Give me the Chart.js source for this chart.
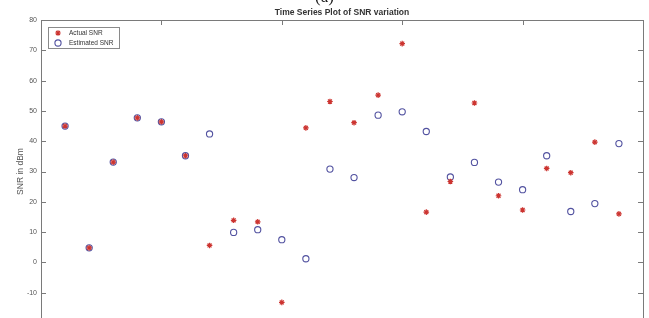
<!DOCTYPE html>
<html>
<head>
<meta charset="utf-8">
<script src="https://cdn.jsdelivr.net/npm/chart.js@4.4.1/dist/chart.umd.min.js"></script>
<style>
  html, body { margin: 0; padding: 0; background: #fff; overflow: hidden; }
  #wrap { position: relative; width: 649px; height: 318px; overflow: hidden; }
  #snrChart { position: absolute; left: 0; top: 0; }
  #caption { position: absolute; left: 0; top: -13px; width: 649px; text-align: center; font: 17px "Liberation Serif", serif; color: #222; }
</style>
</head>
<body>
<div id="wrap">
  <canvas id="snrChart" width="649" height="355"></canvas>
  <div id="caption">(a)</div>
</div>
<script>
// Data
const timeSteps = [1, 2, 3, 4, 5, 6, 7, 8, 9, 10, 11, 12, 13, 14, 15, 16, 17, 18, 19, 20, 21, 22, 23, 24];
const actualSNR = [45.0, 4.8, 33.1, 47.7, 46.4, 35.2, 5.6, 13.9, 13.4, -13.2, 44.4, 53.1,
                   46.1, 55.2, 72.2, 16.6, 26.7, 52.6, 22.0, 17.3, 31.0, 29.6, 39.7, 16.0];
const estimatedSNR = [45.0, 4.8, 33.1, 47.7, 46.4, 35.2, 42.4, 9.9, 10.8, 7.5, 1.2, 30.8,
                      28.0, 48.6, 49.7, 43.2, 28.2, 33.0, 26.5, 24.0, 35.2, 16.8, 19.4, 39.2];
const xTicks = [0, 5, 10, 15, 20, 25];
const yTicks = [-20, -10, 0, 10, 20, 30, 40, 50, 60, 70, 80];
const chartTitle = 'Time Series Plot of SNR variation';

const axisColor = '#7a7a7a';
const textColor = '#555';
const redStar = '#cc3430';
const blueCircle = '#5252a0';
const fontName = '"Liberation Sans", Arial, sans-serif';

function toPoints(ys) {
  return timeSteps.map((x, i) => ({ x: x, y: ys[i] }));
}

// box + inward tick marks + title centred over the axes, matlab style
const matlabFrame = {
  id: 'matlabFrame',
  beforeDatasetsDraw(chart) {
    const { ctx, chartArea: a, scales } = chart;
    const len = 5;
    ctx.save();
    ctx.strokeStyle = axisColor;
    ctx.lineWidth = 1;
    ctx.strokeRect(a.left + 0.5, a.top + 0.5, a.right - a.left, a.bottom - a.top);
    ctx.beginPath();
    xTicks.slice(1, -1).forEach(v => {
      const px = Math.round(scales.x.getPixelForValue(v)) + 0.5;
      ctx.moveTo(px, a.top); ctx.lineTo(px, a.top + len);
      ctx.moveTo(px, a.bottom); ctx.lineTo(px, a.bottom - len);
    });
    yTicks.slice(1, -1).forEach(v => {
      const py = Math.round(scales.y.getPixelForValue(v)) + 0.5;
      ctx.moveTo(a.left, py); ctx.lineTo(a.left + len, py);
      ctx.moveTo(a.right, py); ctx.lineTo(a.right - len, py);
    });
    ctx.stroke();

    ctx.fillStyle = '#333';
    ctx.font = 'bold 8.5px ' + fontName;
    ctx.textAlign = 'center';
    ctx.textBaseline = 'middle';
    ctx.fillText(chartTitle, (a.left + a.right) / 2, a.top - 7);
    ctx.restore();
  }
};

// legend box in the top left corner
const cornerLegend = {
  id: 'cornerLegend',
  afterDraw(chart) {
    const { ctx, chartArea: a } = chart;
    const bx = a.left + 7, by = a.top + 7, bw = 71, bh = 21;
    ctx.save();
    ctx.fillStyle = '#fff';
    ctx.fillRect(bx, by, bw, bh);
    ctx.strokeStyle = '#8a8a8a';
    ctx.lineWidth = 1;
    ctx.strokeRect(bx + 0.5, by + 0.5, bw, bh);
    ctx.textBaseline = 'middle';
    chart.data.datasets.forEach((ds, i) => {
      const cy = by + 6 + i * 10;
      ctx.fillStyle = ds.backgroundColor;
      ctx.strokeStyle = ds.borderColor;
      ctx.lineWidth = ds.borderWidth;
      Chart.helpers.drawPoint(ctx, {
        pointStyle: ds.pointStyle,
        radius: ds.pointRadius,
        borderWidth: ds.borderWidth
      }, bx + 10, cy);
      ctx.fillStyle = '#333';
      ctx.font = '6.5px ' + fontName;
      ctx.fillText(ds.label, bx + 21, cy);
    });
    ctx.restore();
  }
};

function snrChart(ctx) {
  new Chart(ctx, {
    type: 'scatter',
    data: {
      datasets: [
        {
          label: 'Actual SNR',
          data: toPoints(actualSNR),
          pointStyle: 'star',
          pointRadius: 2.8,
          borderColor: redStar,
          backgroundColor: redStar,
          borderWidth: 1.2
        },
        {
          label: 'Estimated SNR',
          data: toPoints(estimatedSNR),
          pointStyle: 'circle',
          pointRadius: 3.1,
          borderColor: blueCircle,
          backgroundColor: 'rgba(0,0,0,0)',
          borderWidth: 1.1
        }
      ]
    },
    options: {
      responsive: false,
      animation: false,
      layout: { padding: { left: 0, right: 6, top: 20, bottom: 0 } },
      plugins: {
        legend: { display: false },
        tooltip: { enabled: false },
        title: { display: false }
      },
      scales: {
        x: {
          type: 'linear',
          min: 0,
          max: 25,
          afterFit: s => { s.height = 32; },
          afterBuildTicks: s => { s.ticks = xTicks.map(v => ({ value: v })); },
          grid: { display: false, drawTicks: false },
          border: { display: false },
          ticks: { display: false }
        },
        y: {
          min: -20,
          max: 80,
          afterFit: s => { s.width = 41; },
          afterBuildTicks: s => { s.ticks = yTicks.map(v => ({ value: v })); },
          grid: { display: false, drawTicks: false },
          border: { display: false },
          ticks: { color: textColor, font: { family: fontName, size: 7 }, padding: 4 },
          title: {
            display: true,
            text: 'SNR in dBm',
            color: textColor,
            font: { family: fontName, size: 8.5 },
            padding: { top: 16, bottom: 0 }
          }
        }
      }
    },
    plugins: [matlabFrame, cornerLegend]
  });
}

function renderSnr() {
  const ctx = document.querySelector('#snrChart').getContext('2d');
  snrChart(ctx);
}

renderSnr();
</script>
</body>
</html>
